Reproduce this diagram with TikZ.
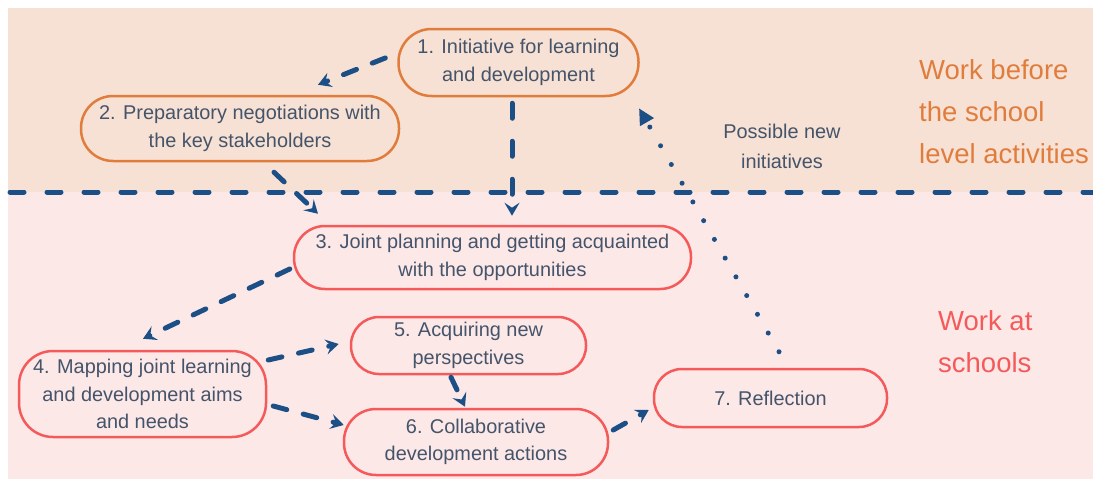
\documentclass[tikz,border=0pt]{standalone}
\usepackage{fontspec}
\setmainfont{Liberation Sans}
\usetikzlibrary{arrows.meta,calc}
\definecolor{peach}{HTML}{F7E1D4}
\definecolor{pinkbg}{HTML}{FDE8E8}
\definecolor{orng}{HTML}{E07D3C}
\definecolor{rd}{HTML}{F55A5A}
\definecolor{txt}{HTML}{44546A}
\definecolor{blu}{HTML}{1B4F85}
\begin{document}
\begin{tikzpicture}[x=1pt,y=-1pt,
  box/.style={draw, line width=2.5pt, align=center, text=txt,
    font=\fontsize{19.9}{27.5}\selectfont, inner sep=0pt},
  obox/.style={box, draw=orng},
  rbox/.style={box, draw=rd},
  flow/.style={draw=blu, line width=5pt, line cap=round,
    dash pattern=on 14pt off 17pt,
    -{Stealth[length=13pt,width=15pt,inset=5pt]}},
  dotflow/.style={draw=blu, line width=5pt, line cap=round,
    dash pattern=on 0pt off 21.6pt,
    -{Triangle[length=16pt,width=15pt]}},
  divider/.style={draw=blu, line width=5pt, line cap=round,
    dash pattern=on 14pt off 23pt},
  lbl/.style={text=txt, font=\fontsize{19.9}{30}\selectfont, align=center, inner sep=0pt},
  zone/.style={font=\fontsize{27.5}{42}\selectfont, align=left, inner sep=0pt, anchor=west}
]
\useasboundingbox (0,0) rectangle (1093,479);
\fill[peach] (8,8) rectangle (1093,192);
\fill[pinkbg] (8,192) rectangle (1093,479);
\coordinate (dl) at (10,192);
\coordinate (dr) at (1093,192);
\draw[divider] (dl) -- (dr);

\node[obox, minimum width=240pt, minimum height=67pt, rounded corners=33pt] (n1) at (518.5,62.5) {1. Initiative for learning\\and development};
\node[obox, minimum width=318pt, minimum height=65pt, rounded corners=32pt] (n2) at (240,128.5) {2. Preparatory negotiations with\\the key stakeholders};
\node[rbox, minimum width=397pt, minimum height=63pt, rounded corners=31pt] (n3) at (492.5,257.5) {3. Joint planning and getting acquainted\\with the opportunities};
\node[rbox, minimum width=247pt, minimum height=86pt, rounded corners=34pt] (n4) at (142.5,394) {4. Mapping joint learning\\and development aims\\and needs};
\node[rbox, minimum width=235pt, minimum height=57pt, rounded corners=28pt] (n5) at (468.5,345.5) {5. Acquiring new\\perspectives};
\node[rbox, minimum width=264pt, minimum height=66pt, rounded corners=32pt] (n6) at (476,442) {6. Collaborative\\development actions};
\node[rbox, minimum width=233pt, minimum height=58pt, rounded corners=28pt] (n7) at (770.5,398) {7. Reflection};

\node[lbl] (pni) at (782,146) {Possible new\\initiatives};
\node[zone, text=orng] (wb) at (919,112) {Work before\\the school\\level activities};
\node[zone, text=rd] (ws) at (938,342) {Work at\\schools};

\draw[flow] ($(n1.west)+(-12,-4.5)$) -- ($(n2.north)+(78,-10)$);
\draw[flow, dash pattern=on 15pt off 23pt] ($(n1.south)+(-6.5,6)$) -- ($(n3.north)+(19.5,-9)$);
\draw[flow] ($(n2.south)+(34,10)$) -- ($(n3.north)+(-174.5,-11)$);
\draw[flow] ($(n3.west)+(-3,11.5)$) -- ($(n4.north)+(0.5,-11)$);
\draw[flow] ($(n4.east)+(1,-34)$) -- ($(n5.west)+(-11,-1.5)$);
\draw[flow] ($(n4.east)+(6,12)$) -- ($(n6.west)+(1,-17)$);
\draw[flow] ($(n5.south)+(-17.5,2)$) -- ($(n6.north)+(-11,-1)$);
\draw[flow] ($(n6.east)+(4,-12)$) -- ($(n7.west)+(-4,12)$);
\draw[dotflow] ($(n7.north)+(8.5,-16)$) -- ($(n1.south)+(120.5,11)$);
\end{tikzpicture}
\end{document}
